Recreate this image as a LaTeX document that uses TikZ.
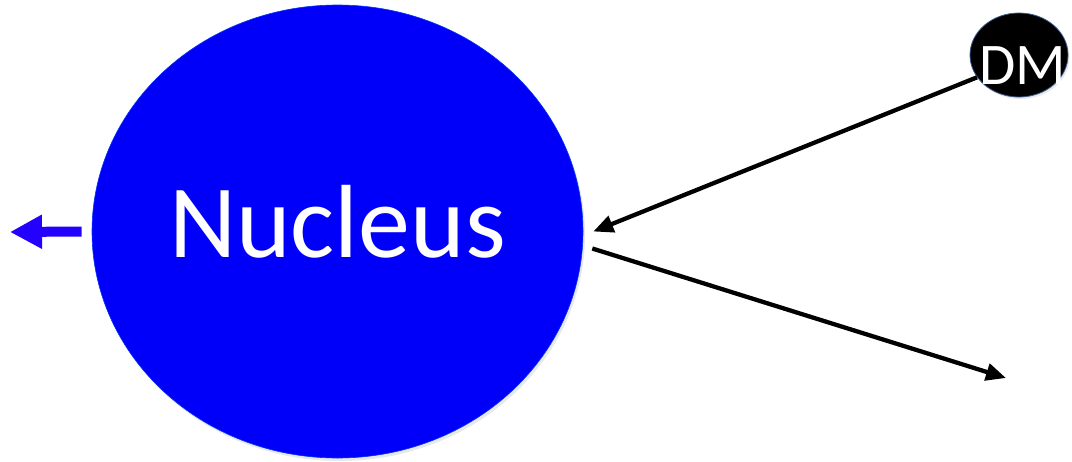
\documentclass[tikz,border=0pt]{standalone}
\usepackage{fontspec}
\setmainfont{Carlito}
\usetikzlibrary{arrows.meta,positioning,shapes.geometric,shadows}
\definecolor{nblue}{RGB}{0,0,250}
\definecolor{kblue}{RGB}{36,0,255}
\definecolor{dmedge}{RGB}{60,90,140}

\begin{document}
\begin{tikzpicture}[
  x=1pt,y=-1pt,
  nuc/.style={ellipse,fill=nblue,draw=nblue!80!cyan,line width=0.6pt,inner sep=0pt,
    minimum width=491pt,minimum height=453pt,text=white,text depth=20pt,
    font=\fontsize{104}{110}\selectfont,
    drop shadow={opacity=0.18,shadow xshift=2pt,shadow yshift=-3pt}},
  dmball/.style={ellipse,fill=black,draw=dmedge,line width=0.8pt,inner sep=0pt,
    minimum width=98pt,minimum height=84pt,
    drop shadow={opacity=0.18,shadow xshift=1.5pt,shadow yshift=-2pt}},
  dmtext/.style={text=white,inner sep=0pt,font=\fontsize{59}{62}\selectfont,xshift=4pt,yshift=-11pt},
  arr/.style={-{Triangle[length=20pt,width=17pt]},line width=4.3pt,black},
  kick/.style={-{Triangle[length=32pt,width=32pt]},line width=10pt,kblue},
  ]
  \useasboundingbox (0,0) rectangle (1072,461);
  \node[nuc] (nucleus) at (337.5,231.5) {Nucleus};
  \node[dmball,label={[dmtext]center:DM}] (dm) at (1019,55) {};
  \coordinate (recoil) at (1006,378);
  \coordinate (kickend) at (10,232);
  % incoming and scattered DM
  \draw[arr] (dm.208) -- ([xshift=10pt]nucleus.east);
  \draw[arr] ([shift={(9,17)}]nucleus.east) -- (recoil);
  % nuclear recoil
  \draw[kick] ([xshift=-10pt]nucleus.west) -- (kickend);
\end{tikzpicture}
\end{document}
